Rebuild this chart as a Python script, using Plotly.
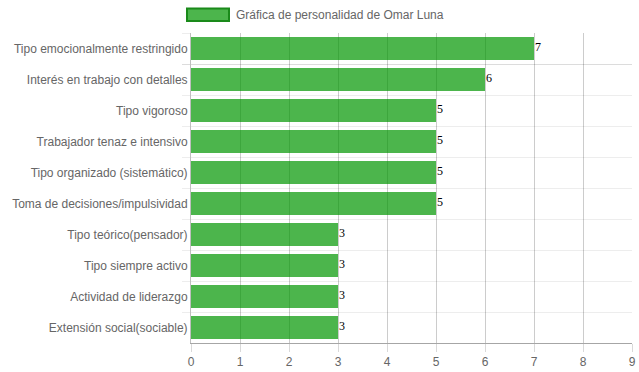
import plotly.graph_objects as go

categories = [
    "Tipo emocionalmente restringido",
    "Interés en trabajo con detalles",
    "Tipo vigoroso",
    "Trabajador tenaz e intensivo",
    "Tipo organizado (sistemático)",
    "Toma de decisiones/impulsividad",
    "Tipo teórico(pensador)",
    "Tipo siempre activo",
    "Actividad de liderazgo",
    "Extensión social(sociable)",
]
values = [7, 6, 5, 5, 5, 5, 3, 3, 3, 3]
series_name = "Gráfica de personalidad de Omar Luna"
x_ticks = list(range(0, 10))

W, H = 639, 372
ML, MT, PW, PH = 191, 33, 441, 310

fig = go.Figure()
fig.add_trace(go.Bar(
    x=values, y=categories, orientation="h",
    marker=dict(color="rgba(0,150,0,0.7)", line=dict(width=0)),
    width=0.72, showlegend=False, name=series_name,
))

for c, v in zip(categories, values):
    fig.add_annotation(x=v, y=c, xref="x", yref="y", text=str(v),
                       xanchor="left", yanchor="middle", yshift=2, xshift=-1,
                       showarrow=False,
                       font=dict(family="Liberation Serif, Times New Roman, serif",
                                 size=12, color="#000"))

fig.update_layout(
    width=W, height=H,
    margin=dict(l=ML, r=W - ML - PW, t=MT, b=H - MT - PH),
    paper_bgcolor="white", plot_bgcolor="white",
    font=dict(family="Liberation Sans, Arial", size=12, color="#666"),
    bargap=0,
    xaxis=dict(
        range=[0, 9], tickvals=x_ticks, showgrid=True, automargin=False,
        gridcolor="rgba(0,0,0,0.2)", gridwidth=1,
        zeroline=False, showline=True, linecolor="rgba(0,0,0,0.35)",
        ticks="outside", ticklen=8, tickcolor="rgba(0,0,0,0.15)",
        tickfont=dict(size=12, color="#666"),
    ),
    yaxis=dict(
        categoryorder="array", categoryarray=categories, autorange="reversed",
        tickson="boundaries", showgrid=True, gridcolor="rgba(0,0,0,0.07)",
        automargin=False,
        showline=True, linecolor="rgba(0,0,0,0.25)",
        ticks="outside", ticklen=8, tickcolor="rgba(0,0,0,0.07)",
        tickfont=dict(size=12, color="#666"),
    ),
)

# legend (Chart.js-style wide box)
fig.add_shape(type="rect", xref="paper", yref="paper",
              x0=(187 - ML) / PW, x1=(229 - ML) / PW,
              y0=1 + (MT - 21) / PH, y1=1 + (MT - 8.5) / PH,
              fillcolor="rgba(0,150,0,0.7)", line=dict(color="#1a8a1a", width=2))
fig.add_annotation(xref="paper", yref="paper",
                   x=(234 - ML) / PW, y=1 + (MT - 14.5) / PH,
                   xanchor="left", yanchor="middle", showarrow=False,
                   text=series_name, font=dict(size=12, color="#666"))

fig.write_html("out.html",
               config={"displayModeBar": False},
               post_script="document.body.style.margin='0';document.body.style.overflow='hidden';")
